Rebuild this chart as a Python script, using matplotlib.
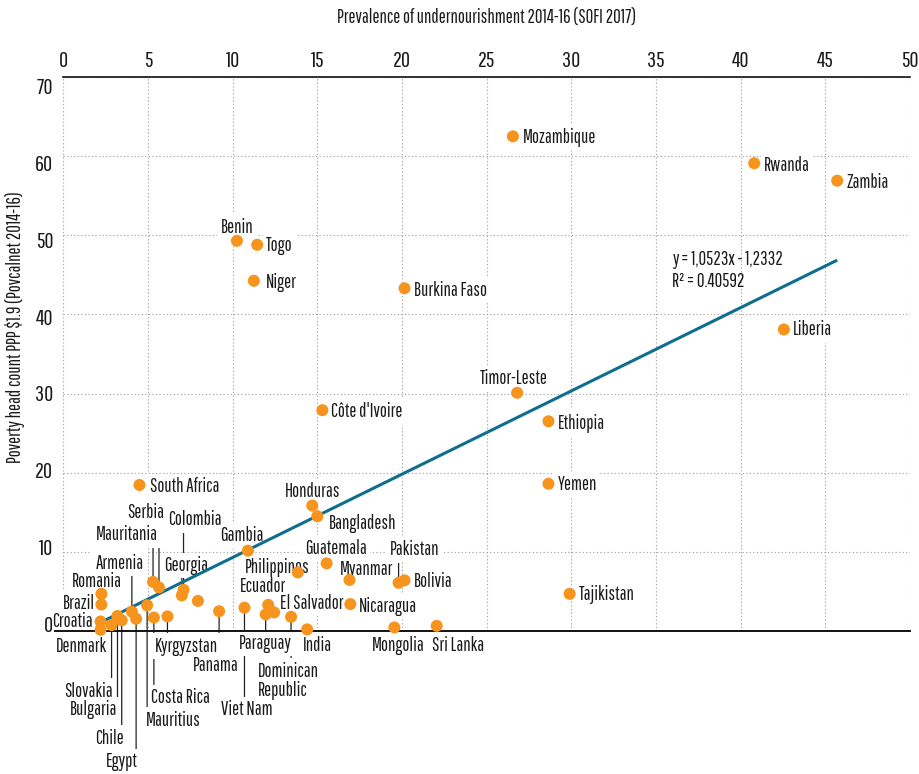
import numpy as np
import matplotlib
matplotlib.use('Agg')
import matplotlib.pyplot as plt
import matplotlib.transforms as mtransforms

plt.rcParams['font.family'] = ['Pathway Gothic One', 'DejaVu Sans']

countries = ['Mozambique', 'Rwanda', 'Zambia', 'Benin', 'Togo', 'Niger', 'Burkina Faso',
             'Liberia', 'Timor-Leste', "Côte d'Ivoire", 'Ethiopia', 'Yemen', 'South Africa',
             'Honduras', 'Bangladesh', 'Gambia', 'Guatemala', 'Philippines', 'Myanmar',
             'Pakistan', 'Bolivia', 'Nicaragua', 'Tajikistan', 'Mongolia', 'Sri Lanka', 'India',
             'Dominican Republic', 'El Salvador', 'Ecuador', 'Paraguay', 'Viet Nam', 'Panama',
             '', 'Colombia', 'Georgia', 'Kyrgyzstan', 'Serbia', 'Mauritania', 'Costa Rica',
             'Mauritius', 'Egypt', 'Armenia', 'Chile', 'Bulgaria', 'Slovakia', 'Romania',
             'Brazil', 'Croatia', 'Denmark']
undernourishment = [26.55, 40.8, 45.7, 10.25, 11.45, 11.25, 20.15,
                    42.55, 26.8, 15.3, 28.65, 28.65, 4.5,
                    14.7, 15.0, 10.9, 15.55, 13.85, 16.9,
                    19.8, 20.15, 16.95, 29.9, 19.55, 22.05, 14.4,
                    13.45, 12.45, 12.1, 11.95, 10.7, 9.2,
                    7.95, 7.1, 7.0, 6.15, 5.65, 5.3, 5.35,
                    4.95, 4.3, 4.05, 3.45, 3.2, 2.85, 2.25,
                    2.25, 2.2, 2.2]
poverty = [62.5, 59.1, 56.9, 49.3, 48.8, 44.25, 43.3,
           38.1, 30.1, 27.9, 26.5, 18.6, 18.45,
           15.85, 14.5, 10.15, 8.55, 7.4, 6.45,
           6.1, 6.4, 3.4, 4.7, 0.45, 0.65, 0.2,
           1.8, 2.35, 3.3, 2.1, 2.95, 2.5,
           3.8, 5.2, 4.5, 1.85, 5.5, 6.2, 1.7,
           3.25, 1.55, 2.45, 1.35, 1.9, 0.75, 4.7,
           3.35, 1.2, 0.15]

slope, intercept = 1.0523, -1.2332
r_squared = 0.40592

x_ticks = list(range(0, 51, 5))
y_ticks = list(range(0, 71, 10))

# label offsets in pixels from the dot: dx, dy, horizontal alignment, leader length (0 = none)
label_pos = {
    'Mozambique': (10, -1, 'left', 0),
    'Rwanda': (10, -2, 'left', 0),
    'Zambia': (9, -1.5, 'left', 0),
    'Benin': (0, 13.5, 'center', 0),
    'Togo': (9, -1, 'left', 0),
    'Niger': (12, -2, 'left', 0),
    'Burkina Faso': (9.5, -2, 'left', 0),
    'Liberia': (9.5, -0.5, 'left', 0),
    'Timor-Leste': (-3, 14, 'center', 0),
    "Côte d'Ivoire": (9, -1.5, 'left', 0),
    'Ethiopia': (9, -2, 'left', 0),
    'Yemen': (9, -1, 'left', 0),
    'South Africa': (10, -2, 'left', 0),
    'Honduras': (0, 14, 'center', 0),
    'Bangladesh': (12, -7, 'left', 0),
    'Gambia': (-6, 15, 'center', 0),
    'Guatemala': (9, 15, 'center', 0),
    'Philippines': (-21, 5, 'center', 0),
    'Myanmar': (-10, 10, 'left', 0),
    'Pakistan': (16, 33, 'center', 20),
    'Bolivia': (9, -1, 'left', 0),
    'Nicaragua': (9, -2, 'left', 0),
    'Tajikistan': (9.5, -1, 'left', 0),
    'Mongolia': (4, -18, 'center', 0),
    'Sri Lanka': (21, -20, 'center', 0),
    'India': (10, -16, 'center', 0),
    'Dominican Republic': (-33, -64, 'left', -45),
    'El Salvador': (6, 9, 'left', 0),
    'Ecuador': (-5, 18, 'center', 10),
    'Paraguay': (0, -29, 'center', -17),
    'Viet Nam': (2, -102, 'center', -92),
    'Panama': (-3, -54, 'center', -45),
    'Colombia': (11.5, 70, 'center', 59),
    'Georgia': (4, 30, 'center', 18),
    'Kyrgyzstan': (19, -30, 'center', -18),
    'Serbia': (-13, 74.5, 'center', 66),
    'Mauritania': (-26, 47, 'center', 37),
    'Costa Rica': (-3, -80, 'left', -67),
    'Mauritius': (-1.5, -115, 'left', -105),
    'Egypt': (2, -143, 'right', -133),
    'Armenia': (-12, 48.5, 'center', 38.5),
    'Chile': (2, -118, 'right', -108),
    'Bulgaria': (0, -94, 'right', -86),
    'Slovakia': (1.5, -66, 'right', -55),
    'Romania': (-5, 12, 'center', 0),
    'Brazil': (-6.5, 0.5, 'right', 0),
    'Croatia': (-8, 0, 'right', 0),
    'Denmark': (-19, -17, 'center', 0),
}
label_text = {'Dominican Republic': 'Dominican\nRepublic'}

dot_color = '#F7941D'
line_color = '#0D6E8E'
text_color = '#1a1a1a'
label_size = 13.5
tick_size = 16

fig = plt.figure(figsize=(9.2, 7.74), dpi=100)
ax = fig.add_axes([63.3 / 920, 143 / 774, 846.7 / 920, 554 / 774])

ax.set_xlim(0, 50)
ax.set_ylim(0, 70)
ax.xaxis.tick_top()
ax.set_xticks(x_ticks)
ax.set_xticklabels([str(v) for v in x_ticks], fontsize=tick_size, color=text_color)
ax.set_yticks(y_ticks)
ax.set_yticklabels([])
ax.tick_params(length=0)
ax.tick_params(axis='x', pad=4.5)

for s in ['left', 'right', 'bottom']:
    ax.spines[s].set_visible(False)
ax.spines['top'].set_linewidth(1.2)
ax.spines['top'].set_color('#111111')

ax.set_axisbelow(True)
ax.grid(True, color='#9a9a9a', linestyle=(0, (1, 2.2)), linewidth=0.8)
ax.axhline(0, xmin=-0.01, xmax=1.0, color='#111111', lw=1.4, clip_on=False, zorder=3.5)

# y tick labels drawn by hand so they can sit slightly off the grid lines
ytrans = ax.get_yaxis_transform()
for v in y_ticks:
    shift = mtransforms.ScaledTranslation(0, (5 - 0.229 * v) / 100, fig.dpi_scale_trans)
    ax.text(-0.012, v, str(v), transform=ytrans + shift, ha='right', va='center',
            fontsize=tick_size, color=text_color, clip_on=False, zorder=6)

ax.set_xlabel('Prevalence of undernourishment 2014-16 (SOFI 2017)', fontsize=label_size, color=text_color)
ax.xaxis.set_label_position('top')
ax.xaxis.set_label_coords(0.5, (631 - 17) / 554)
ax.xaxis.label.set_va('center')
ax.set_ylabel('Poverty head count PPP \\$1.9 (Povcalnet 2014-16)', fontsize=label_size, color=text_color)
ax.yaxis.set_label_coords(-0.0567, 0.549)
ax.yaxis.label.set_va('center')

# linear trend over the span of the data
xs = np.array([min(undernourishment), max(undernourishment)])
ax.plot(xs, slope * xs + intercept, color=line_color, lw=2.2, zorder=4, solid_capstyle='butt')
ax.text(0.719, 0.670, 'y = 1,0523x - 1,2332', transform=ax.transAxes, fontsize=label_size,
        ha='left', va='center', color=text_color)
ax.text(0.719, 0.630, 'R² = ' + str(r_squared), transform=ax.transAxes, fontsize=label_size,
        ha='left', va='center', color=text_color)

ax.scatter(undernourishment, poverty, s=75, color=dot_color, edgecolors='none', zorder=5, clip_on=False)

# leader lines, then white boxes behind the labels, then the label texts on top
for name, x, y in zip(countries, undernourishment, poverty):
    if name not in label_pos:
        continue
    dx, dy, ha, lead = label_pos[name]
    txt = label_text.get(name, name)
    kw = dict(xy=(x, y), xytext=(dx, dy), textcoords='offset pixels', ha=ha, va='center',
              fontsize=label_size, annotation_clip=False, multialignment='left', linespacing=1.0)
    if lead:
        ax.annotate('', xy=(x, y), xytext=(0, lead), textcoords='offset pixels',
                    arrowprops=dict(arrowstyle='-', color='#222222', lw=0.9, shrinkA=0, shrinkB=0),
                    annotation_clip=False, zorder=2)
    ax.annotate(txt, color='none', zorder=2.8,
                bbox=dict(boxstyle='square,pad=0.18', fc='white', ec='none'), **kw)
    ax.annotate(txt, color=text_color, zorder=3, **kw)

fig.savefig('out.png', dpi=100)
